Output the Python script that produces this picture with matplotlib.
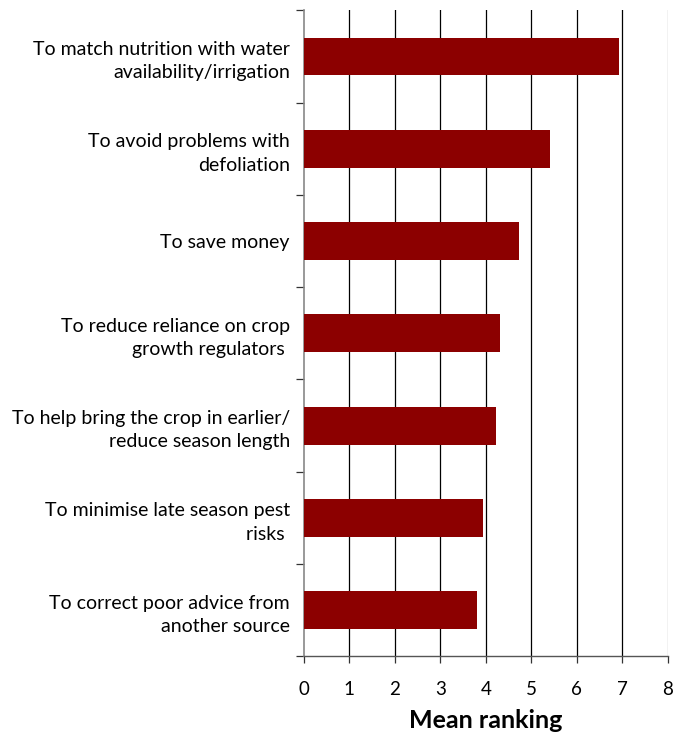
import matplotlib.pyplot as plt
import numpy as np

# Survey reasons and mean ranking
reasons = [
    "To match nutrition with water\navailability/irrigation",
    "To avoid problems with\ndefoliation",
    "To save money",
    "To reduce reliance on crop\ngrowth regulators ",
    "To help bring the crop in earlier/\nreduce season length",
    "To minimise late season pest\nrisks ",
    "To correct poor advice from\nanother source",
]
mean_ranking = [6.92, 5.41, 4.72, 4.31, 4.22, 3.93, 3.81]

plt.rcParams['font.family'] = ['Lato', 'DejaVu Sans']

fig = plt.figure(figsize=(6.78, 7.35), dpi=100)
ax = fig.add_axes([0.448, 0.107, 0.537, 0.879])

y = np.arange(len(reasons))
ax.barh(y, mean_ranking, height=0.41, color='#8c0000', zorder=3)

ax.set_xlim(0, 8)
ax.set_ylim(len(reasons) - 0.5, -0.5)

# Vertical gridlines
for xv in range(1, 9):
    ax.axvline(xv, color='black' if xv < 8 else '#999999', linewidth=0.9, zorder=1)

ax.set_xticks(range(9))
ax.tick_params(axis='x', direction='out', length=5, width=0.9, color='#333333',
               pad=13, labelsize=13.5)

ax.set_yticks(y)
ax.set_yticklabels(reasons, fontsize=14, multialignment='right', linespacing=1.45)
ax.tick_params(axis='y', which='major', length=0, pad=10)
ax.set_yticks(np.arange(-0.5, len(reasons), 1), minor=True)
ax.tick_params(axis='y', which='minor', direction='out', length=6, width=0.9, color='#333333')

for side in ['top', 'right']:
    ax.spines[side].set_visible(False)
ax.spines['left'].set_color('#888888')
ax.spines['left'].set_linewidth(1.2)
ax.spines['bottom'].set_color('#555555')
ax.spines['bottom'].set_linewidth(1.0)

ax.set_xlabel('Mean ranking', fontsize=18, fontweight='bold', labelpad=8)

fig.savefig('out.png', dpi=100)
